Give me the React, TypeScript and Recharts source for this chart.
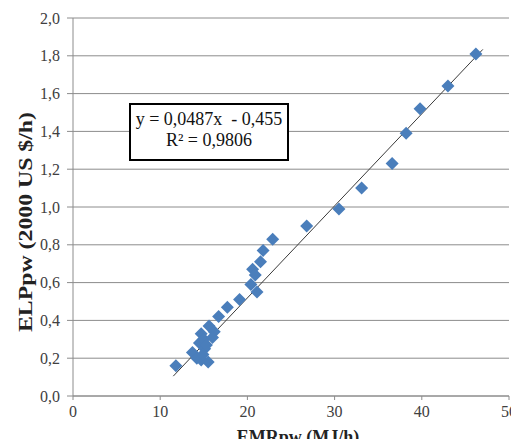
import {
  ScatterChart,
  Scatter,
  XAxis,
  YAxis,
  CartesianGrid,
  ReferenceLine,
  Label,
} from 'recharts'

// EMRpw (MJ/h)
const emr = [
  46.2, 43.0, 39.8, 38.2, 36.6, 33.1, 30.5, 26.8, 22.9, 21.8, 21.5, 20.6, 20.9, 20.4,
  21.1, 19.1, 17.7, 16.7, 15.6, 14.7, 16.2, 14.5, 15.1, 13.7, 14.2, 14.7, 15.5, 11.8,
  15.0, 16.0, 14.9, 15.3,
]
// ELPpw (2000 US $/h)
const elp = [
  1.81, 1.64, 1.52, 1.39, 1.23, 1.1, 0.99, 0.9, 0.83, 0.77, 0.71, 0.67, 0.64, 0.59,
  0.55, 0.51, 0.47, 0.42, 0.37, 0.33, 0.34, 0.28, 0.25, 0.23, 0.2, 0.19, 0.18, 0.16,
  0.3, 0.31, 0.22, 0.27,
]

const xTicks = [0, 10, 20, 30, 40, 50]
const yTicks = [0, 0.2, 0.4, 0.6, 0.8, 1.0, 1.2, 1.4, 1.6, 1.8, 2.0]

// trend fit from the reference
const slope = 0.0487
const intercept = -0.455
const trendFrom = 11.5
const trendTo = 47

const points = emr.map((x, i) => ({ x, y: elp[i] }))
const fit = (x: number) => slope * x + intercept

const FONT = 'Liberation Serif'
const GRID = '#8c8c8c'
const BLUE = '#4a7ebb'
const tickStyle = { fill: '#404040', fontSize: 16, fontFamily: FONT }

function Diamond(props: any) {
  const { cx, cy } = props
  const r = 6.5
  return (
    <polygon
      points={`${cx},${cy - r} ${cx + r},${cy} ${cx},${cy + r} ${cx - r},${cy}`}
      fill={BLUE}
    />
  )
}

function YTitle(props: any) {
  const vb = props.viewBox || {}
  const cy = vb.y + vb.height / 2 + 15
  return (
    <text
      x={26}
      y={cy}
      transform={`rotate(-90, 26, ${cy})`}
      textAnchor="middle"
      dominantBaseline="central"
      fontFamily={FONT}
      fontWeight="bold"
      fontSize={18}
      fill="#222"
      textLength={220}
      lengthAdjust="spacingAndGlyphs"
    >
      ELPpw (2000 US $/h)
    </text>
  )
}

function XTitle(props: any) {
  const vb = props.viewBox || {}
  const cx = vb.x + vb.width / 2 + 7
  return (
    <text
      x={cx}
      y={437}
      textAnchor="middle"
      dominantBaseline="central"
      fontFamily={FONT}
      fontWeight="bold"
      fontSize={18}
      fill="#222"
    >
      EMRpw (MJ/h)
    </text>
  )
}

export default function App() {
  return (
    <div style={{ position: 'relative', margin: '-8px', width: 519, height: 447, background: '#fff' }}>
      <ScatterChart
        width={519}
        height={447}
        margin={{ top: 18, right: 10, bottom: 0, left: 0 }}
      >
        <CartesianGrid vertical={false} stroke={GRID} />
        <XAxis
          type="number"
          dataKey="x"
          domain={[0, 50]}
          ticks={xTicks}
          height={51}
          stroke={GRID}
          tickSize={4}
          tickMargin={6}
          tick={tickStyle}
        >
          <Label content={<XTitle />} />
        </XAxis>
        <YAxis
          type="number"
          dataKey="y"
          domain={[0, 2]}
          ticks={yTicks}
          width={73}
          stroke={GRID}
          tickSize={6}
          tickMargin={7}
          tickFormatter={(v: number) => v.toFixed(1).replace('.', ',')}
          tick={tickStyle}
        >
          <Label content={<YTitle />} />
        </YAxis>
        <Scatter data={points} shape={<Diamond />} isAnimationActive={false} />
        <ReferenceLine
          segment={[
            { x: trendFrom, y: fit(trendFrom) },
            { x: trendTo, y: fit(trendTo) },
          ]}
          stroke="#3a3a3a"
          strokeWidth={1}
        />
      </ScatterChart>
      <div
        style={{
          position: 'absolute',
          left: 129,
          top: 103,
          width: 156,
          height: 50,
          border: '2px solid #000',
          background: '#fff',
          fontFamily: FONT,
          fontSize: 18,
          lineHeight: '21px',
          textAlign: 'center',
          whiteSpace: 'pre',
          color: '#111',
          paddingTop: 4,
          boxSizing: 'content-box',
        }}
      >
        {'y = 0,0487x  - 0,455\nR² = 0,9806'}
      </div>
    </div>
  )
}
